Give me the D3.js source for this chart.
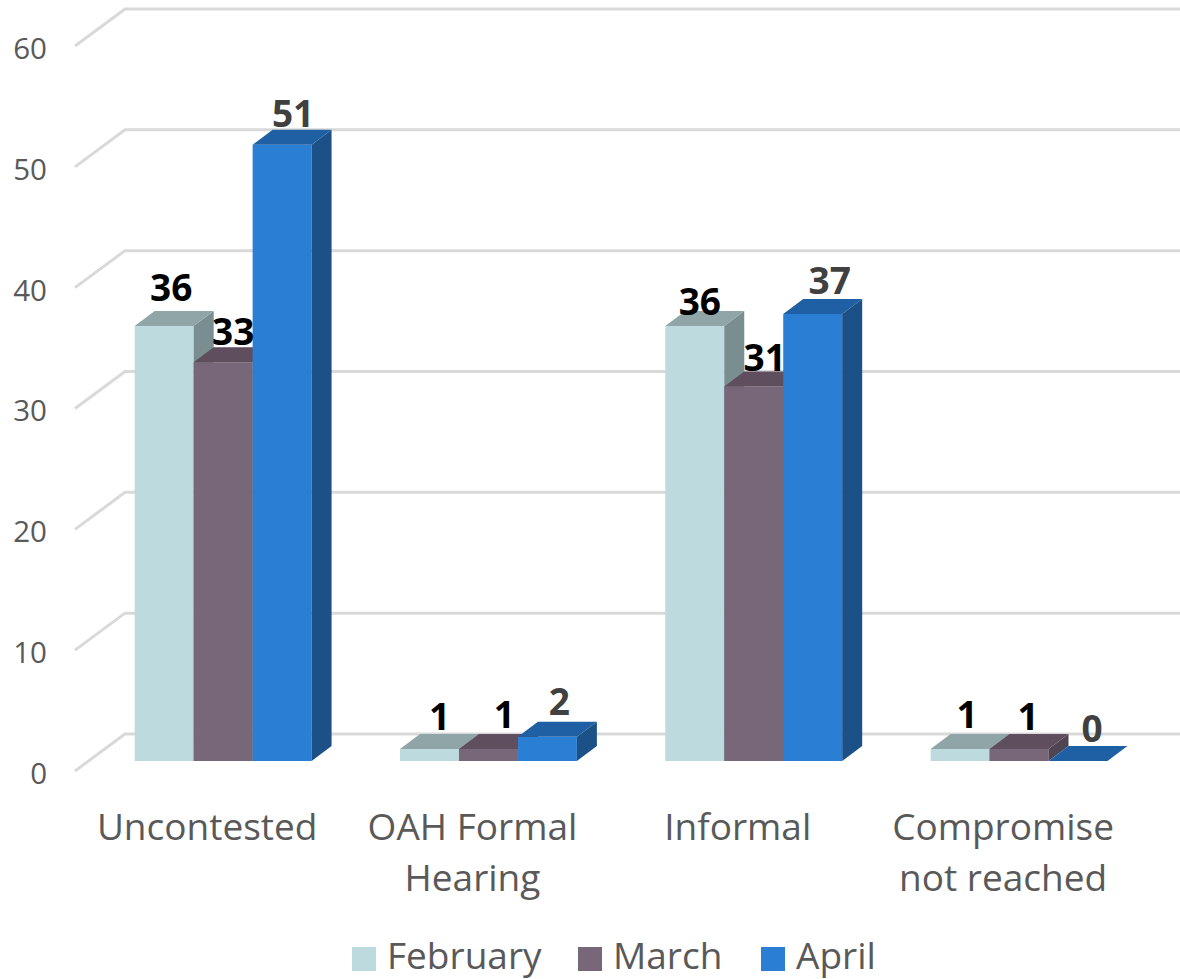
<!DOCTYPE html>
<html>
<head>
  <meta charset="utf-8">
  <title>Cases by month</title>
  <script src="https://d3js.org/d3.v7.min.js"></script>
  <style>
    html, body { margin: 0; padding: 0; background: #fff; overflow: hidden; }
    svg { display: block; font-family: "Open Sans", sans-serif; }
  </style>
</head>
<body>
<div id="container"></div>
<script>
const categories = ["Uncontested", "OAH Formal Hearing", "Informal", "Compromise not reached"];
const categoryLines = [["Uncontested"], ["OAH Formal", "Hearing"], ["Informal"], ["Compromise", "not reached"]];
const months = ["February", "March", "April"];
const february = [36, 1, 36, 1];
const march = [33, 1, 31, 1];
const april = [51, 2, 37, 0];
const yTicks = [0, 10, 20, 30, 40, 50, 60];

const width = 1180, height = 979;
const values = { February: february, March: march, April: april };
const colors = {
  February: { front: "#bddade", top: "#8fa5a8", side: "#7a8d90", label: "#000000" },
  March: { front: "#786778", top: "#5f4e5e", side: "#4f4451", label: "#000000" },
  April: { front: "#2a7fd5", top: "#1f5fa3", side: "#1b5187", label: "#404040" }
};
// bar depth and wall depth of the fake 3d
const depth = { x: 20, y: -15 };
const wall = { x: 50, y: -37 };
// the value labels were placed by hand in the original, so each one gets a nudge [dx, dy]
const labelNudge = {
  February: [[-3, -7], [0, -1], [-5, 7], [-3, -3]],
  March: [[0, 1], [6, -3], [1, 3], [-1, -1]],
  April: [[1, 0], [2, -4], [7, -2], [4, -1]]
};

const svg = d3.select("#container").append("svg")
  .attr("width", width)
  .attr("height", height);

const x0 = d3.scaleBand()
  .domain(categories)
  .range([90.5, 1151.7])
  .paddingInner(1 / 3)
  .paddingOuter(1 / 6);

const x1 = d3.scaleBand()
  .domain(months)
  .range([0, x0.bandwidth()]);

const y = d3.scaleLinear()
  .domain([0, 60])
  .range([761, 36]);

// back wall gridlines plus the slanted bit on the left
const grid = svg.append("g")
  .attr("fill", "none")
  .attr("stroke", "#d9d9d9")
  .attr("stroke-width", 3);

grid.selectAll("path")
  .data(yTicks)
  .enter()
  .append("path")
  .attr("d", function(d) {
    const back = y(d) - 27;
    return "M" + (125 - wall.x) + "," + (back - wall.y) + "L125," + back + "H" + width;
  });

svg.append("g")
  .attr("transform", "translate(47,13)")
  .call(d3.axisLeft(y).tickValues(yTicks).tickSize(0).tickPadding(0))
  .call(function(g) { g.select(".domain").remove(); })
  .selectAll("text")
  .attr("font-family", "Open Sans")
  .attr("font-size", 29.5)
  .attr("fill", "#595959");

// left to right, so the next bar paints over the side of the previous one
months.forEach(function(month) {
  const c = colors[month];
  const bars = svg.append("g").selectAll("g")
    .data(categories)
    .enter()
    .append("g");

  function left(d) { return x0(d) + x1(month); }
  function right(d) { return left(d) + x1.bandwidth(); }
  function topY(d, i) { return y(values[month][i]); }

  bars.append("rect")
    .attr("x", left)
    .attr("y", topY)
    .attr("width", x1.bandwidth())
    .attr("height", function(d, i) { return y(0) - topY(d, i); })
    .attr("fill", c.front);

  bars.append("path")
    .attr("fill", c.side)
    .attr("d", function(d, i) {
      const r = right(d), t = topY(d, i);
      return "M" + r + "," + t + "l" + depth.x + "," + depth.y + "V" + (y(0) + depth.y) + "L" + r + "," + y(0) + "Z";
    });

  bars.append("path")
    .attr("fill", c.top)
    .attr("d", function(d, i) {
      const t = topY(d, i);
      return "M" + left(d) + "," + t + "l" + depth.x + "," + depth.y + "H" + (right(d) + depth.x) + "L" + right(d) + "," + t + "Z";
    });
});

// value labels go last, they sit on top of the bars
months.forEach(function(month) {
  svg.append("g").selectAll("text")
    .data(categories)
    .enter()
    .append("text")
    .attr("x", function(d, i) { return x0(d) + x1(month) + x1.bandwidth() / 2 + 10 + labelNudge[month][i][0]; })
    .attr("y", function(d, i) { return y(values[month][i]) - 18 + labelNudge[month][i][1]; })
    .attr("text-anchor", "middle")
    .attr("font-size", 37)
    .attr("font-weight", 700)
    .attr("fill", colors[month].label)
    .text(function(d, i) { return values[month][i]; });
});

const xAxis = svg.append("g")
  .attr("transform", "translate(-16,800)")
  .call(d3.axisBottom(x0).tickSize(0).tickPadding(0))
  .call(function(g) { g.select(".domain").remove(); });

xAxis.selectAll("text")
  .attr("font-family", "Open Sans")
  .attr("font-size", 37)
  .attr("fill", "#595959")
  .attr("dy", null)
  .attr("y", 0)
  .text(null)
  .each(function(d, i) {
    d3.select(this).selectAll("tspan")
      .data(categoryLines[i])
      .enter()
      .append("tspan")
      .attr("x", 0)
      .attr("y", function(l, j) { return 40 + j * 51; })
      .text(function(l) { return l; });
  });

const legendX = [352, 578, 761];
const legend = svg.append("g").selectAll("g")
  .data(months)
  .enter()
  .append("g")
  .attr("transform", function(d, i) { return "translate(" + legendX[i] + ",947)"; });

legend.append("rect")
  .attr("width", 24)
  .attr("height", 24)
  .attr("fill", function(d) { return colors[d].front; });

legend.append("text")
  .attr("x", 35)
  .attr("y", 22)
  .attr("font-size", 37)
  .attr("fill", "#595959")
  .text(function(d) { return d; });
</script>
</body>
</html>
